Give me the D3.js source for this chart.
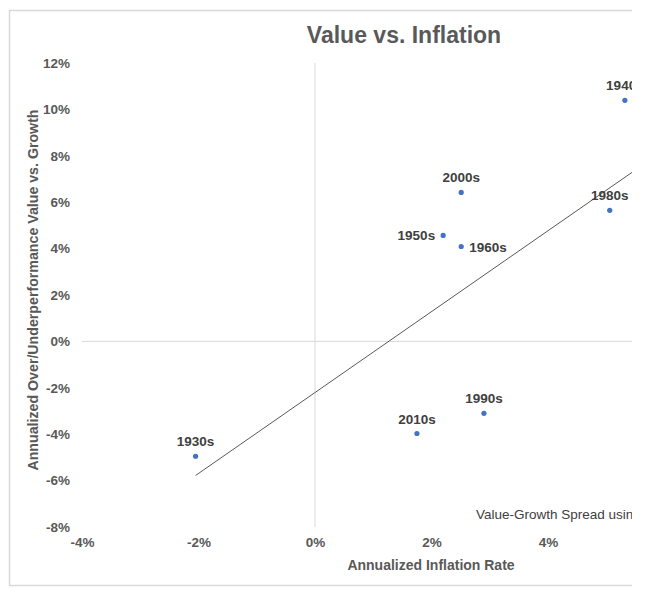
<!DOCTYPE html>
<html><head><meta charset="utf-8">
<script src="https://cdn.jsdelivr.net/npm/d3@7"></script>
<style>body{margin:0;background:#fff}svg{display:block}text{font-family:"Liberation Sans",Arial,sans-serif}</style>
</head><body><svg id="c" width="647" height="596"></svg>
<script>
const decades = ["1930s","1940s","1950s","1960s","1980s","1990s","2000s","2010s"];
const inflation = [-2.05, 5.32, 2.20, 2.51, 5.06, 2.90, 2.51, 1.75];
const spread = [-4.95, 10.39, 4.57, 4.09, 5.65, -3.10, 6.42, -3.97];
const labelPos = ["top","top","left","right","top","top","top","top"];
const xTicks = [-4,-2,0,2,4];
const yTicks = [-8,-6,-4,-2,0,2,4,6,8,10,12];
const trendX = [-2.05, 5.8];
const trendY = [-5.78, 7.91];

const svg = d3.select("#c");
const defs = svg.append("defs");
defs.append("clipPath").attr("id","cl").append("rect").attr("x",0).attr("y",0).attr("width",632).attr("height",596);
const g = svg.append("g").attr("clip-path","url(#cl)");

const x = d3.scaleLinear().domain([-4,8]).range([82,781]);
const y = d3.scaleLinear().domain([-8,12]).range([527,63]);

// chart border
g.append("rect").attr("x",9.5).attr("y",10.5).attr("width",800).attr("height",575)
  .attr("fill","none").attr("stroke","#d9d9d9").attr("stroke-width",1.5);

g.append("text").attr("x",404).attr("y",43).attr("text-anchor","middle")
  .attr("font-size",23).attr("font-weight","bold").attr("fill","#595959").text("Value vs. Inflation");

// zero axis lines
g.append("line").attr("x1",x(-4)).attr("x2",x(8)).attr("y1",y(0)).attr("y2",y(0)).attr("stroke","#d9d9d9").attr("stroke-width",1);
g.append("line").attr("x1",x(0)).attr("x2",x(0)).attr("y1",y(12)).attr("y2",y(-8)).attr("stroke","#d9d9d9").attr("stroke-width",1);

// y tick labels
const yAxis = d3.axisLeft(y).tickValues(yTicks).tickFormat(d=>d+"%").tickSize(0).tickPadding(0);
const ya = g.append("g").attr("transform","translate(70,0)").call(yAxis);
ya.select(".domain").remove();
ya.selectAll("text").attr("font-size",13.5).attr("font-weight","bold").attr("fill","#595959").attr("font-family","Liberation Sans, Arial, sans-serif");

const xAxis = d3.axisBottom(x).tickValues(xTicks).tickFormat(d=>d+"%").tickSize(0).tickPadding(0);
const xa = g.append("g").attr("transform","translate(0,537)").call(xAxis);
xa.select(".domain").remove();
xa.selectAll("text").attr("font-size",13.5).attr("font-weight","bold").attr("fill","#595959").attr("font-family","Liberation Sans, Arial, sans-serif");

// axis titles
g.append("text").attr("x",431).attr("y",570).attr("text-anchor","middle").attr("font-size",14).attr("font-weight","bold").attr("fill","#595959").text("Annualized Inflation Rate");
g.append("text").attr("transform","translate(38,290) rotate(-90)").attr("text-anchor","middle").attr("font-size",14.2).attr("font-weight","bold").attr("fill","#595959").text("Annualized Over/Underperformance Value vs. Growth");

// trendline
g.append("line").attr("x1",x(trendX[0])).attr("y1",y(trendY[0])).attr("x2",x(trendX[1])).attr("y2",y(trendY[1]))
  .attr("stroke","#595959").attr("stroke-width",1);

// points
const data = decades.map((d,i)=>({d, x:inflation[i], y:spread[i], p:labelPos[i]}));
g.selectAll("circle").data(data).enter().append("circle")
  .attr("cx",d=>x(d.x)).attr("cy",d=>y(d.y)).attr("r",2.6).attr("fill","#4472c4");
g.selectAll("text.lbl").data(data).enter().append("text").attr("class","lbl")
  .attr("x",d=>d.p==="left"?x(d.x)-8:d.p==="right"?x(d.x)+8:x(d.x))
  .attr("y",d=>d.p==="top"?y(d.y)-10:y(d.y)+5)
  .attr("text-anchor",d=>d.p==="left"?"end":d.p==="right"?"start":"middle")
  .attr("font-size",13.5).attr("font-weight","bold").attr("fill","#404040").text(d=>d.d);

g.append("text").attr("x",476).attr("y",519).attr("font-size",13.5).attr("fill","#404040").text("Value-Growth Spread using");
</script></body></html>
